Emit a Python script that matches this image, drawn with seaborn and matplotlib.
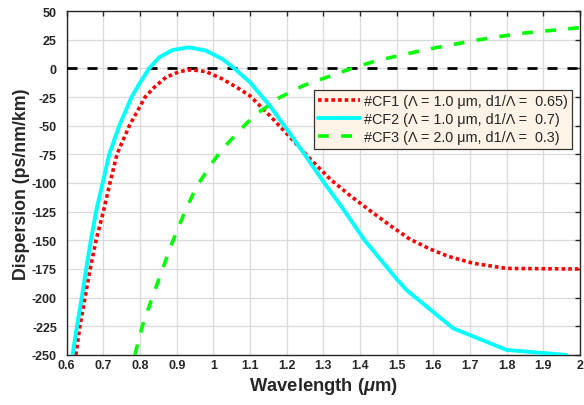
import matplotlib
matplotlib.use("Agg")
import matplotlib.pyplot as plt
import seaborn as sns
import pandas as pd

# ---- data ----
cf1_wl = [0.625, 0.636, 0.650, 0.664, 0.680, 0.700, 0.718, 0.737, 0.771, 0.814, 0.839,
          0.871, 0.907, 0.939, 0.980, 1.025, 1.071, 1.100, 1.154, 1.209, 1.264, 1.318,
          1.373, 1.427, 1.482, 1.536, 1.591, 1.641, 1.709, 1.800, 2.000]
cf1_d = [-250, -225, -200, -175, -150, -125, -100, -75, -50, -25, -16.5,
         -7.8, -2.9, -1.2, -2.9, -9.3, -18, -24, -41.3, -60, -79, -96.5,
         -111, -124, -137, -149, -157.6, -164, -170, -174.5, -175]

cf2_wl = [0.616, 0.628, 0.641, 0.653, 0.666, 0.680, 0.698, 0.716, 0.7435, 0.777, 0.798,
          0.825, 0.8525, 0.889, 0.934, 0.980, 1.025, 1.057, 1.100, 1.154, 1.200, 1.245,
          1.295, 1.354, 1.4135, 1.500, 1.527, 1.654, 1.800, 1.963]
cf2_d = [-250, -225, -200, -175, -150, -125, -100, -75, -50, -25, -13.7,
         0, 9.6, 16, 18.3, 15.4, 8.1, 0, -12.2, -32.6, -52.9, -73.2,
         -96.5, -122.7, -150.3, -183.7, -193.4, -226.7, -245.6, -250]

cf3_wl = [0.786, 0.807, 0.830, 0.848, 0.866, 0.889, 0.921, 0.9545, 1.000, 1.025, 1.089,
          1.118, 1.1817, 1.245, 1.309, 1.3725, 1.445, 1.582, 1.718, 1.836, 2.000]
cf3_d = [-250, -224, -203, -187, -171, -151, -126, -103, -81, -70.3, -48.5,
         -39.8, -25.3, -15.1, -7.8, -0.6, 6.7, 16.5, 24.6, 30.4, 35.5]

labels = ["#CF1 (\u039b = 1.0 \u03bcm, d1/\u039b =  0.65)",
          "#CF2 (\u039b = 1.0 \u03bcm, d1/\u039b =  0.7)",
          "#CF3 (\u039b = 2.0 \u03bcm, d1/\u039b =  0.3)"]

xticks = [0.6, 0.7, 0.8, 0.9, 1.0, 1.1, 1.2, 1.3, 1.4, 1.5, 1.6, 1.7, 1.8, 1.9, 2.0]
xticklabels = ["0.6", "0.7", "0.8", "0.9", "1", "1.1", "1.2", "1.3", "1.4", "1.5",
               "1.6", "1.7", "1.8", "1.9", "2"]
yticks = [50, 25, 0, -25, -50, -75, -100, -125, -150, -175, -200, -225, -250]

# ---- style ----
sns.set_style("whitegrid")
plt.rcParams["font.family"] = ["Liberation Sans", "DejaVu Sans"]
plt.rcParams["axes.unicode_minus"] = False
plt.rcParams["mathtext.fontset"] = "custom"
plt.rcParams["mathtext.it"] = "Liberation Sans:italic:bold"
plt.rcParams["mathtext.rm"] = "Liberation Sans:bold"

fig = plt.figure(figsize=(5.84, 4.06), dpi=100)
ax = fig.add_axes([66.7 / 584, 1 - 356 / 406, (580 - 66.7) / 584, 344 / 406])

df1 = pd.DataFrame({"wl": cf1_wl, "d": cf1_d})
df2 = pd.DataFrame({"wl": cf2_wl, "d": cf2_d})
df3 = pd.DataFrame({"wl": cf3_wl, "d": cf3_d})

ax.axhline(0, color="black", lw=2.0, linestyle=(0, (3.6, 3.6)), zorder=3)
sns.lineplot(data=df1, x="wl", y="d", ax=ax, color="#FF0000", lw=2.6,
             linestyle=(0, (1.0, 0.85)), label=labels[0], zorder=4, sort=False)
sns.lineplot(data=df2, x="wl", y="d", ax=ax, color="#00FFFF", lw=2.8,
             label=labels[1], zorder=4, sort=False)
sns.lineplot(data=df3, x="wl", y="d", ax=ax, color="#00FF00", lw=2.6,
             linestyle=(0, (3.0, 3.4)), label=labels[2], zorder=4, sort=False)
for ln in ax.get_lines():
    ln.set_dash_capstyle("butt")

ax.set_xlim(0.6, 2.0)
ax.set_ylim(-250, 50)
ax.set_xticks(xticks)
ax.set_xticklabels(xticklabels)
ax.set_yticks(yticks)
ax.set_yticklabels([str(v) for v in yticks])
ax.tick_params(axis="both", which="both", direction="in", length=3.6, width=1,
               color="#262626", labelsize=9, top=True, right=True,
               labelcolor="#262626")
ax.tick_params(axis="x", pad=3)
ax.tick_params(axis="y", pad=7)
for lab in ax.get_xticklabels() + ax.get_yticklabels():
    lab.set_fontweight("bold")

ax.grid(True, color="#DADADA", lw=0.9)
for s in ax.spines.values():
    s.set_visible(True)
    s.set_color("#262626")
    s.set_linewidth(1.0)

ax.set_xlabel(r"Wavelength ($\mu$m)", fontsize=13.2, fontweight="bold",
              color="#262626", labelpad=3)
ax.set_ylabel("Dispersion (ps/nm/km)", fontsize=12.8, fontweight="bold",
              color="#262626", labelpad=1.5)

leg = ax.legend(loc="upper right", bbox_to_anchor=(0.984, 0.770), fontsize=10.4,
                frameon=True, fancybox=False, handlelength=2.9, handletextpad=0.25,
                borderpad=0.3, labelspacing=0.27, borderaxespad=0)
leg.get_frame().set_facecolor("#FDF3E7")
leg.get_frame().set_edgecolor("#333333")
leg.get_frame().set_alpha(1)
leg.get_frame().set_linewidth(0.9)
for h in leg.get_lines():
    h.set_dash_capstyle("butt")

fig.savefig("out.png", dpi=100)
